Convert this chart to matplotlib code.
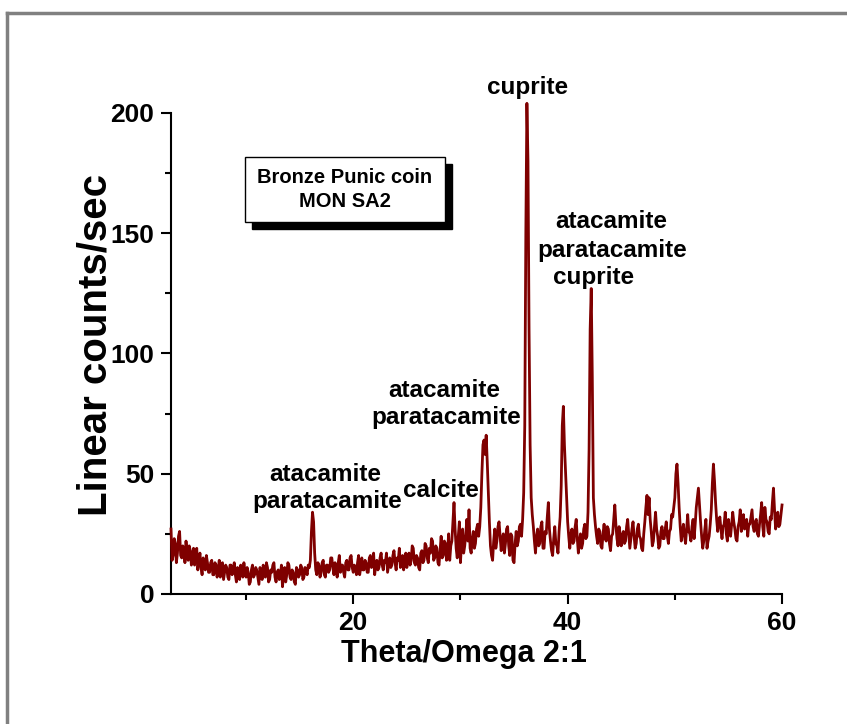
"""
XRD pattern: Bronze Punic coin MON SA2
"""

import matplotlib

matplotlib.use("Agg")
import matplotlib.pyplot as plt
import numpy as np
from matplotlib.lines import Line2D
from matplotlib.patches import Rectangle
from matplotlib.ticker import MultipleLocator

# 2θ scan, every 0.1 deg from 3 to 60 (one row = 2 deg)
two_theta_start = 3.0
two_theta_end = 60.0
counts = [
    27, 14, 16, 23, 21, 13, 17, 24, 26, 16, 15, 20, 19, 13, 22, 17, 14, 20, 18, 12,   # 3
    16, 19, 12, 15, 19, 10, 14, 17, 11, 8, 15, 12, 10, 16, 13, 9, 9, 13, 14, 8,       # 5
    8, 13, 12, 7, 10, 14, 7, 11, 13, 6, 9, 12, 11, 7, 6, 12, 12, 8, 10, 13,           # 7
    8, 5, 11, 9, 6, 12, 10, 7, 13, 9, 7, 11, 9, 4, 5, 10, 12, 7, 8, 11,               # 9
    10, 7, 4, 11, 9, 6, 12, 8, 7, 13, 11, 5, 6, 10, 9, 12, 13, 7, 5, 9,               # 11
    10, 6, 7, 12, 3, 8, 11, 5, 8, 13, 12, 7, 6, 10, 9, 5, 4, 11, 10, 7,               # 13
    8, 12, 11, 6, 7, 11, 10, 8, 12, 11, 14, 26, 34, 30, 17, 10, 8, 13, 12, 7,         # 15
    9, 13, 14, 8, 7, 12, 12, 9, 10, 15, 15, 11, 8, 13, 11, 7, 13, 16, 9, 12,          # 17
    12, 9, 7, 13, 14, 10, 10, 15, 16, 11, 9, 12, 11, 8, 13, 16, 8, 11, 15, 10,        # 19
    10, 14, 13, 9, 9, 15, 16, 11, 12, 17, 8, 12, 14, 10, 11, 15, 17, 12, 10, 14,      # 21
    13, 17, 9, 12, 15, 11, 12, 16, 18, 13, 10, 15, 14, 19, 11, 14, 16, 10, 13, 17,    # 23
    11, 15, 17, 12, 14, 20, 19, 13, 12, 16, 15, 11, 10, 17, 18, 13, 14, 21, 20, 15,   # 25
    13, 19, 17, 23, 22, 14, 15, 20, 19, 13, 12, 18, 24, 15, 16, 22, 21, 14, 18, 25,   # 27
    14, 20, 22, 30, 38, 27, 19, 15, 24, 30, 13, 21, 27, 17, 20, 25, 31, 22, 35, 19,   # 29
    17, 23, 26, 19, 21, 27, 29, 24, 28, 36, 50, 62, 64, 58, 66, 55, 42, 30, 20, 16,   # 31
    14, 22, 27, 19, 22, 28, 30, 24, 18, 23, 25, 17, 21, 27, 28, 20, 16, 25, 24, 14,   # 33
    13, 21, 26, 20, 22, 28, 29, 24, 31, 42, 70, 150, 204, 180, 110, 62, 40, 33, 28, 22,  # 35
    17, 24, 27, 20, 21, 28, 30, 19, 19, 26, 25, 32, 38, 27, 22, 18, 16, 23, 28, 21,   # 37
    20, 17, 26, 32, 45, 70, 78, 62, 51, 40, 30, 24, 19, 25, 27, 21, 22, 28, 31, 23,   # 39
    17, 22, 25, 19, 21, 27, 29, 23, 24, 34, 60, 110, 127, 90, 40, 33, 28, 24, 21, 27, # 41
    26, 20, 19, 25, 29, 23, 22, 28, 27, 21, 18, 24, 25, 31, 37, 29, 23, 20, 28, 25,   # 43
    20, 24, 26, 21, 22, 28, 31, 25, 19, 23, 27, 30, 24, 19, 21, 27, 29, 24, 23, 19,   # 45
    18, 25, 30, 36, 41, 33, 40, 31, 26, 20, 22, 28, 34, 27, 24, 19, 20, 26, 28, 23,   # 47
    23, 27, 30, 24, 21, 26, 27, 33, 32, 36, 40, 50, 54, 46, 36, 28, 22, 26, 29, 24,   # 49
    21, 27, 33, 26, 25, 22, 28, 31, 23, 29, 36, 40, 44, 37, 30, 24, 19, 22, 27, 31,   # 51
    19, 22, 24, 29, 35, 46, 54, 47, 38, 31, 26, 30, 32, 27, 23, 28, 29, 34, 25, 22,   # 53
    31, 27, 24, 29, 34, 30, 27, 23, 22, 28, 30, 35, 26, 29, 33, 27, 28, 31, 24, 29,   # 55
    29, 32, 35, 28, 26, 30, 31, 25, 24, 29, 33, 38, 28, 24, 36, 31, 30, 26, 25, 32,   # 57
    31, 38, 44, 35, 27, 30, 34, 28, 29, 33, 37,                                       # 59
]
sample_lines = ["Bronze Punic coin", "MON SA2"]

plt.rcParams["font.family"] = ["Liberation Sans", "DejaVu Sans"]
plt.rcParams["font.weight"] = "bold"

two_theta = np.linspace(two_theta_start, two_theta_end, len(counts))

fig = plt.figure(figsize=(8.47, 7.24), dpi=100)
ax = fig.add_axes([0.2019, 0.1796, 0.7214, 0.6644])

ax.plot(two_theta, counts, color="#7f0000", lw=2.0, clip_on=False, zorder=3)

ax.set_xlim(3, 60)
ax.set_ylim(0, 200)
ax.xaxis.set_major_locator(MultipleLocator(20))
ax.xaxis.set_minor_locator(MultipleLocator(10))
ax.yaxis.set_major_locator(MultipleLocator(50))
ax.yaxis.set_minor_locator(MultipleLocator(25))
ax.spines["top"].set_visible(False)
ax.spines["right"].set_visible(False)
for s in ("left", "bottom"):
    ax.spines[s].set_linewidth(1.5)
ax.tick_params(which="major", direction="out", length=7, width=1.5, labelsize=19, pad=5)
ax.tick_params(which="minor", direction="out", length=4, width=1.5)

ax.set_xlabel("Theta/Omega 2:1", fontsize=22, fontweight="bold")
ax.xaxis.set_label_coords(0.48, -0.094)
ax.set_ylabel("Linear counts/sec", fontsize=29, fontweight="bold")
ax.yaxis.set_label_coords(-0.093, 0.518)

# ピーク同定
lab = dict(fontsize=17.5, fontweight="bold", ha="center", va="center", clip_on=False)
ax.text(36.3, 210.4, "cuprite", **lab)
ax.text(44.1, 154.7, "atacamite", **lab)
ax.text(44.2, 143.0, "paratacamite", **lab)
ax.text(42.4, 131.4, "cuprite", **lab)
ax.text(28.5, 84.8, "atacamite", **lab)
ax.text(28.7, 73.2, "paratacamite", **lab)
ax.text(28.2, 43.2, "calcite", **lab)
ax.text(17.4, 49.5, "atacamite", **lab)
ax.text(17.6, 38.3, "paratacamite", **lab)

# 試料名の枠（影付き）
ax.add_patch(Rectangle((0.1325, 0.7588), 0.327, 0.1351, transform=ax.transAxes,
                       facecolor="black", edgecolor="black", clip_on=False, zorder=4))
ax.add_patch(Rectangle((0.121, 0.7734), 0.327, 0.1351, transform=ax.transAxes,
                       facecolor="white", edgecolor="black", lw=1, clip_on=False, zorder=5))
ax.text(0.2845, 0.841, "\n".join(sample_lines), transform=ax.transAxes, ha="center",
        va="center", fontsize=14.5, fontweight="bold", linespacing=1.35, zorder=6)

# 外枠（グレー）
fig.add_artist(Line2D([7 / 847, 7 / 847], [0, 1 - 13 / 724], color="#808080", lw=2.5))
fig.add_artist(Line2D([7 / 847, 1], [1 - 13 / 724, 1 - 13 / 724], color="#808080", lw=2.5))

fig.savefig("out.png", dpi=100)
